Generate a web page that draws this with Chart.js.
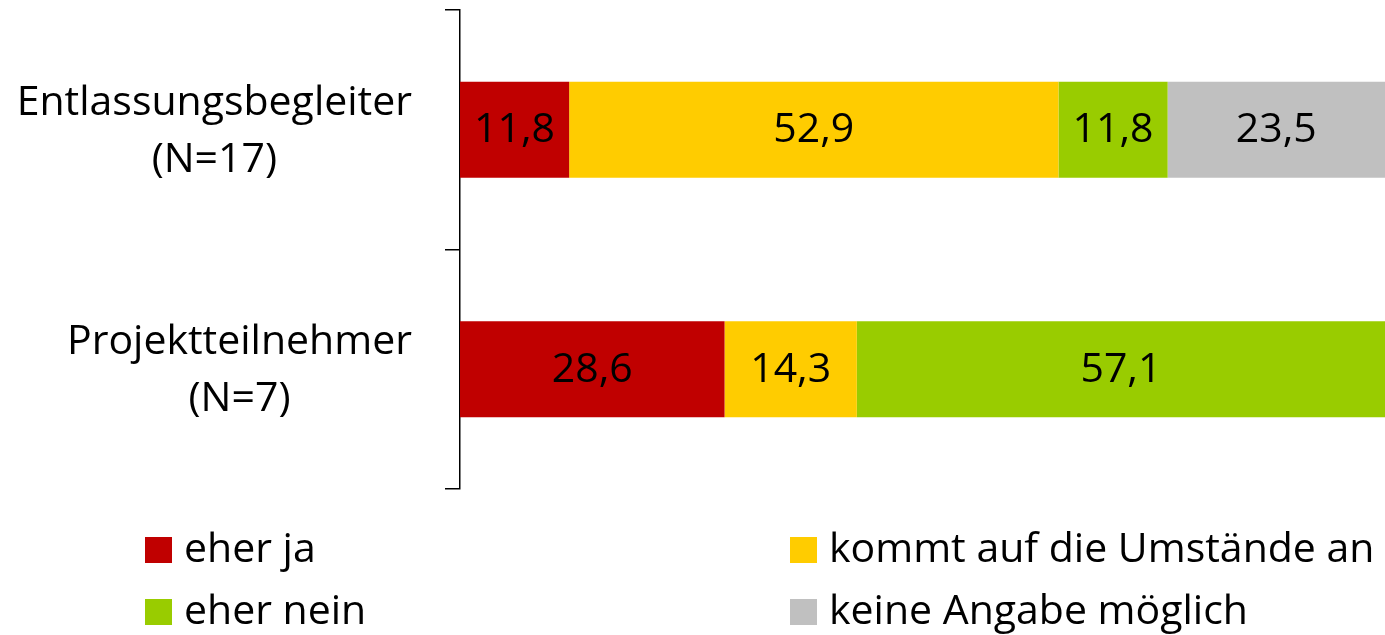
<!DOCTYPE html>
<html>
<head>
<meta charset="utf-8">
<script src="https://cdn.jsdelivr.net/npm/chart.js@4"></script>
<style>
html,body{margin:0;padding:0;background:#fff;}
#wrap{width:1385px;height:635px;position:relative;}
</style>
</head>
<body>
<div id="wrap"><canvas id="c" width="1385" height="635"></canvas></div>
<script>
const categories = [['Entlassungsbegleiter', '(N=17)'], ['Projektteilnehmer', '(N=7)']];
const seriesNames = ['eher ja', 'kommt auf die Umstände an', 'eher nein', 'keine Angabe möglich'];
const eherJa = [11.8, 28.6];
const kommtAuf = [52.9, 14.3];
const eherNein = [11.8, 57.1];
const keineAngabe = [23.5, 0];
const seriesColors = ['#C00000', '#FFCC00', '#99CC00', '#C0C0C0'];

const FONT = '"Open Sans", Lato, sans-serif';
const FS = 41;

const valueLabels = {
  id: 'valueLabels',
  afterDatasetsDraw(chart) {
    const ctx = chart.ctx;
    ctx.save();
    ctx.font = FS + 'px ' + FONT;
    ctx.fillStyle = '#000';
    ctx.textAlign = 'center';
    ctx.textBaseline = 'middle';
    chart.data.datasets.forEach((ds, i) => {
      const meta = chart.getDatasetMeta(i);
      meta.data.forEach((bar, j) => {
        const v = ds.data[j];
        if (!v) return;
        const x = (bar.x + bar.base) / 2;
        ctx.fillText(v.toFixed(1).replace('.', ','), x, bar.y + 1);
      });
    });
    ctx.restore();
  }
};

// category labels: each block right-aligned, lines centred within the block
const catLabels = {
  id: 'catLabels',
  afterDraw(chart) {
    const ctx = chart.ctx;
    const scale = chart.scales.y;
    ctx.save();
    ctx.font = FS + 'px ' + FONT;
    ctx.fillStyle = '#000';
    ctx.textAlign = 'center';
    ctx.textBaseline = 'middle';
    const rightEdge = scale.right - 48;
    chart.data.labels.forEach((lines, i) => {
      const yc = scale.getPixelForTick(i);
      const w = Math.max(...lines.map(l => ctx.measureText(l).width));
      const xc = rightEdge - w / 2;
      lines.forEach((l, k) => {
        ctx.fillText(l, xc, yc + (k - (lines.length - 1) / 2) * 57 + 2);
      });
    });
    ctx.restore();
  }
};

const twoColLegend = {
  id: 'twoColLegend',
  afterDraw(chart) {
    const ctx = chart.ctx;
    ctx.save();
    ctx.font = FS + 'px ' + FONT;
    ctx.textBaseline = 'middle';
    ctx.textAlign = 'left';
    const colX = [145, 790];
    const rowY = [550, 612];
    chart.data.datasets.forEach((ds, i) => {
      const x = colX[i % 2];
      const y = rowY[Math.floor(i / 2)];
      ctx.fillStyle = ds.backgroundColor;
      ctx.fillRect(x, y - 13, 27, 26);
      ctx.fillStyle = '#000';
      ctx.fillText(ds.label, x + 39, y);
    });
    ctx.restore();
  }
};

const dataArrays = [eherJa, kommtAuf, eherNein, keineAngabe];

new Chart(document.getElementById('c'), {
  type: 'bar',
  data: {
    labels: categories,
    datasets: dataArrays.map((d, i) => ({
      label: seriesNames[i],
      data: d,
      backgroundColor: seriesColors[i],
      borderWidth: 0,
      categoryPercentage: 0.4,
      barPercentage: 1.0
    }))
  },
  options: {
    indexAxis: 'y',
    responsive: false,
    animation: false,
    layout: { padding: { top: 10, bottom: 146, right: 0, left: 0 } },
    plugins: { legend: { display: false }, tooltip: { enabled: false } },
    scales: {
      x: { stacked: true, min: 0, max: 100, display: false },
      y: {
        stacked: true,
        afterFit(scale) { scale.width = 460; scale.paddingTop = 0; scale.paddingBottom = 0; },
        border: { display: true, color: '#000', width: 1.5 },
        grid: { offset: true, drawOnChartArea: false, drawTicks: true, tickLength: 15, color: '#000', lineWidth: 1.5 },
        ticks: { display: false }
      }
    }
  },
  plugins: [valueLabels, catLabels, twoColLegend]
});
</script>
</body>
</html>
